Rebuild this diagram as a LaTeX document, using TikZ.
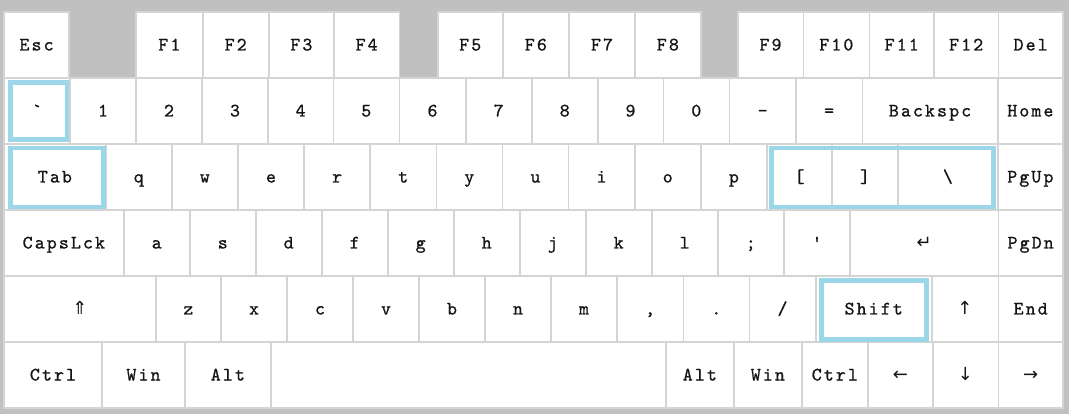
\documentclass[tikz,border=0pt]{standalone}
\usepackage{fontspec}
\newfontfamily\keyfont[Ligatures=TeXOff,LetterSpace=11,FakeBold=0.9]{lmmono10-regular.otf}
\newfontfamily\symfont{DejaVu Sans}
\definecolor{kbbg}{RGB}{192,192,192}
\definecolor{kbline}{RGB}{212,212,212}
\definecolor{kbtext}{RGB}{20,20,20}
\definecolor{hlblue}{RGB}{155,215,232}
\tikzset{
  kbkey/.style={draw=kbline, line width=1.6pt, fill=white, inner sep=0pt,
    minimum height=66pt, text=kbtext,
    font=\keyfont\fontsize{19}{19}\selectfont, text height=13pt, text depth=2pt},
  kbsym/.style={font=\symfont\fontsize{18}{18}\selectfont},
  hlbox/.style={draw=hlblue, line width=4.7pt},
}
% #1 extra options, #2 name, #3 left x, #4 right x, #5 top y, #6 label
\newcommand\kb[6][]{\node[kbkey,#1,minimum width={#4-#3}] (#2) at ({(#3+#4)/2},{#5+33}) {#6};}
\begin{document}
\begin{tikzpicture}[x=1pt,y=-1pt]
\fill[kbbg] (0,0) rectangle (1069,414);
\useasboundingbox (0,0) rectangle (1069,414);
% row 1
\kb{esc}{4}{69}{12}{Esc}
\kb{f1}{136}{202.7}{12}{F1}
\kb{f2}{202.7}{268.7}{12}{F2}
\kb{f3}{268.7}{334}{12}{F3}
\kb{f4}{334}{399.3}{12}{F4}
\kb{f5}{437.7}{502.7}{12}{F5}
\kb{f6}{502.7}{569}{12}{F6}
\kb{f7}{569}{635}{12}{F7}
\kb{f8}{635}{700.7}{12}{F8}
\kb{f9}{737.7}{803.3}{12}{F9}
\kb{f10}{803.3}{869.3}{12}{F10}
\kb{f11}{869.3}{934}{12}{F11}
\kb{f12}{934}{998.3}{12}{F12}
\kb{del}{998.3}{1063}{12}{Del}
% row 2
\kb{kgrave}{4}{70}{78}{`}
\kb{k1}{70}{136}{78}{1}
\kb{k2}{136}{202}{78}{2}
\kb{k3}{202}{268}{78}{3}
\kb{k4}{268}{333.3}{78}{4}
\kb{k5}{333.3}{399.3}{78}{5}
\kb{k6}{399.3}{465.7}{78}{6}
\kb{k7}{465.7}{531.7}{78}{7}
\kb{k8}{531.7}{597.7}{78}{8}
\kb{k9}{597.7}{663.3}{78}{9}
\kb{k0}{663.3}{729.3}{78}{0}
\kb{kminus}{729.3}{796}{78}{-}
\kb{kequal}{796}{862.3}{78}{=}
\kb{bksp}{862.3}{997.7}{78}{Backspc}
\kb{home}{997.7}{1063}{78}{Home}
% row 3
\kb{tab}{4}{105.7}{144}{Tab}
\kb{kq}{105.7}{171.8}{144}{q}
\kb{kw}{171.8}{237.9}{144}{w}
\kb{ke}{237.9}{304.1}{144}{e}
\kb{kr}{304.1}{370.2}{144}{r}
\kb{kt}{370.2}{436.3}{144}{t}
\kb{ky}{436.3}{502.4}{144}{y}
\kb{ku}{502.4}{568.5}{144}{u}
\kb{ki}{568.5}{634.7}{144}{i}
\kb{ko}{634.7}{700.8}{144}{o}
\kb{kp}{700.8}{767}{144}{p}
\kb{klbrack}{767}{832}{144}{[}
\kb{krbrack}{832}{898}{144}{]}
\kb{kbslash}{898}{997.7}{144}{\textbackslash}
\kb{pgup}{997.7}{1063}{144}{PgUp}
% row 4
\kb{caps}{4}{123.7}{210}{CapsLck}
\kb{ka}{123.7}{189.7}{210}{a}
\kb{ks}{189.7}{255.7}{210}{s}
\kb{kd}{255.7}{321.7}{210}{d}
\kb{kf}{321.7}{387.7}{210}{f}
\kb{kg}{387.7}{453.7}{210}{g}
\kb{kh}{453.7}{519.7}{210}{h}
\kb{kj}{519.7}{585.7}{210}{j}
\kb{kk}{585.7}{651.7}{210}{k}
\kb{kl}{651.7}{717.7}{210}{l}
\kb{ksemi}{717.7}{784}{210}{;}
\kb{kquote}{784}{850}{210}{'}
\kb[kbsym]{enter}{850}{998.3}{210}{↵}
\kb{pgdn}{998.3}{1063}{210}{PgDn}
% row 5
\kb[kbsym]{lshift}{4}{155.7}{276}{⇑}
\kb{kz}{155.7}{221}{276}{z}
\kb{kx}{221}{287}{276}{x}
\kb{kc}{287}{353}{276}{c}
\kb{kv}{353}{419}{276}{v}
\kb{kb}{419}{485}{276}{b}
\kb{kn}{485}{551}{276}{n}
\kb{km}{551}{617}{276}{m}
\kb{kcomma}{617}{683.3}{276}{,}
\kb{kperiod}{683.3}{749.3}{276}{.}
\kb{kslash}{749.3}{815.7}{276}{/}
\kb{rshift}{815.7}{931.7}{276}{Shift}
\kb[kbsym]{up}{931.7}{998.3}{276}{↑}
\kb{kend}{998.3}{1063}{276}{End}
% row 6
\kb{lctrl}{4}{102}{342}{Ctrl}
\kb{lwin}{102}{185}{342}{Win}
\kb{lalt}{185}{270.7}{342}{Alt}
\kb{space}{270.7}{665.7}{342}{}
\kb{ralt}{665.7}{734}{342}{Alt}
\kb{rwin}{734}{801.7}{342}{Win}
\kb{rctrl}{801.7}{868}{342}{Ctrl}
\kb[kbsym]{left}{868}{932.7}{342}{←}
\kb[kbsym]{down}{932.7}{998.3}{342}{↓}
\kb[kbsym]{right}{998.3}{1063}{342}{→}
% highlights
\draw[hlbox] (10.35,82.35) rectangle (66.95,139.35);
\draw[hlbox] (10.35,148.05) rectangle (103.35,206.95);
\draw[hlbox] (771.35,148.05) rectangle (993.65,206.95);
\draw[hlbox] (821.65,280.65) rectangle (926.65,339.35);
\end{tikzpicture}
\end{document}
